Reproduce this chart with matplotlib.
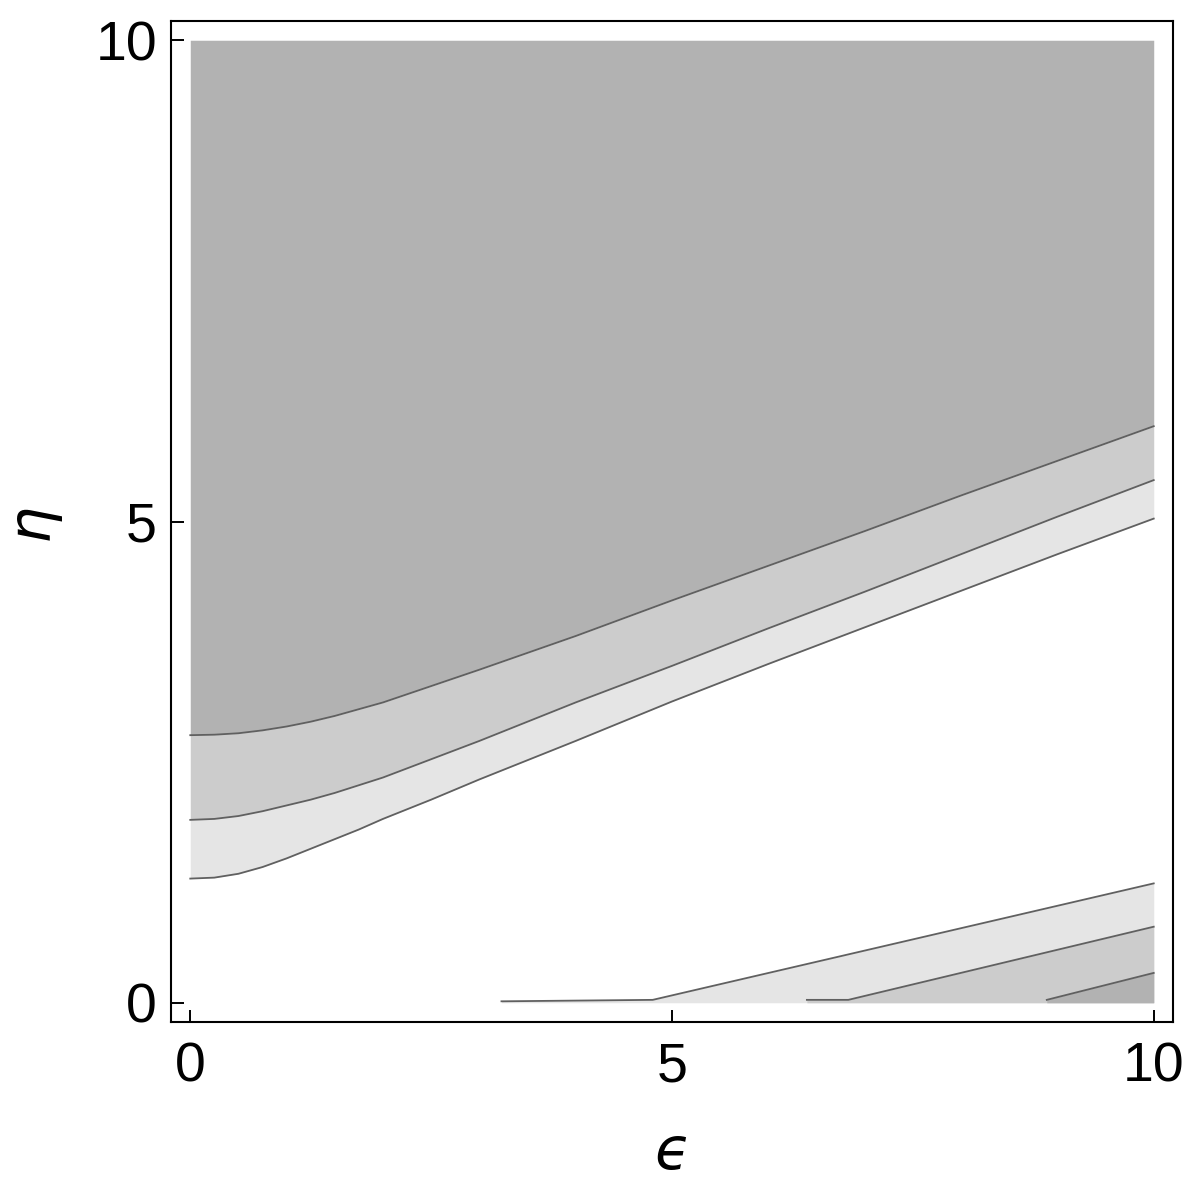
import numpy as np
import matplotlib
matplotlib.use("Agg")
import matplotlib.pyplot as plt

# Upper family of contour boundaries
eps_upper = [0, 0.25, 0.5, 0.75, 1, 1.25, 1.5, 1.75, 2, 2.5, 3, 4, 5, 6, 7, 8, 9, 10]
eta_top = [2.78, 2.785, 2.80, 2.83, 2.87, 2.92, 2.98, 3.05, 3.12, 3.29, 3.46, 3.81, 4.18, 4.54, 4.90, 5.27, 5.63, 5.99]
eta_mid = [1.90, 1.91, 1.94, 1.99, 2.05, 2.11, 2.18, 2.26, 2.34, 2.53, 2.72, 3.12, 3.50, 3.89, 4.27, 4.66, 5.05, 5.43]
eta_low = [1.29, 1.30, 1.34, 1.41, 1.50, 1.60, 1.70, 1.80, 1.91, 2.11, 2.32, 2.72, 3.13, 3.52, 3.90, 4.28, 4.66, 5.03]

# Lower-right contour boundaries
eps_br_light = [3.23, 4.80, 10]
eta_br_light = [0.015, 0.03, 1.24]
eps_br_mid = [6.40, 6.83, 10]
eta_br_mid = [0.03, 0.03, 0.79]
eps_br_dark = [8.89, 10]
eta_br_dark = [0.03, 0.31]

ticks = [0, 5, 10]
c_dark, c_mid, c_light = "#b2b2b2", "#cccccc", "#e5e5e5"
line_c = "#606060"

fig = plt.figure(figsize=(11.96, 11.95), dpi=100)
ax = fig.add_axes([171/1196, 1-1022/1195, (1173-171)/1196, (1022-21)/1195])

ax.fill_between(eps_upper, eta_top, 10, color=c_dark, lw=0)
ax.fill_between(eps_upper, eta_mid, eta_top, color=c_mid, lw=0)
ax.fill_between(eps_upper, eta_low, eta_mid, color=c_light, lw=0)
for y in (eta_top, eta_mid, eta_low):
    ax.plot(eps_upper, y, color=line_c, lw=1.3)

ax.fill_between(eps_br_light, 0, eta_br_light, color=c_light, lw=0)
ax.fill_between(eps_br_mid, 0, eta_br_mid, color=c_mid, lw=0)
ax.fill_between(eps_br_dark, 0, eta_br_dark, color=c_dark, lw=0)
for xs, ys in ((eps_br_light, eta_br_light), (eps_br_mid, eta_br_mid), (eps_br_dark, eta_br_dark)):
    ax.plot(xs, ys, color=line_c, lw=1.3)

ax.set_xlim(-0.2, 10.2)
ax.set_ylim(-0.2, 10.2)
ax.set_xticks(ticks)
ax.set_yticks(ticks)
ax.set_xticklabels([str(t) for t in ticks], fontsize=40, family="Liberation Sans")
ax.set_yticklabels([str(t) for t in ticks], fontsize=40, family="Liberation Sans")
ax.tick_params(direction="in", length=9, width=1.4)
ax.tick_params(axis="x", pad=14)
ax.tick_params(axis="y", pad=10)
for s in ax.spines.values():
    s.set_linewidth(1.5)
ax.set_xlabel("\u03f5", fontsize=42, family="DejaVu Sans", style="italic", labelpad=22)
ax.set_ylabel("\u03b7", fontsize=42, family="DejaVu Sans", style="italic", labelpad=26)

fig.savefig("out.png", dpi=100)
